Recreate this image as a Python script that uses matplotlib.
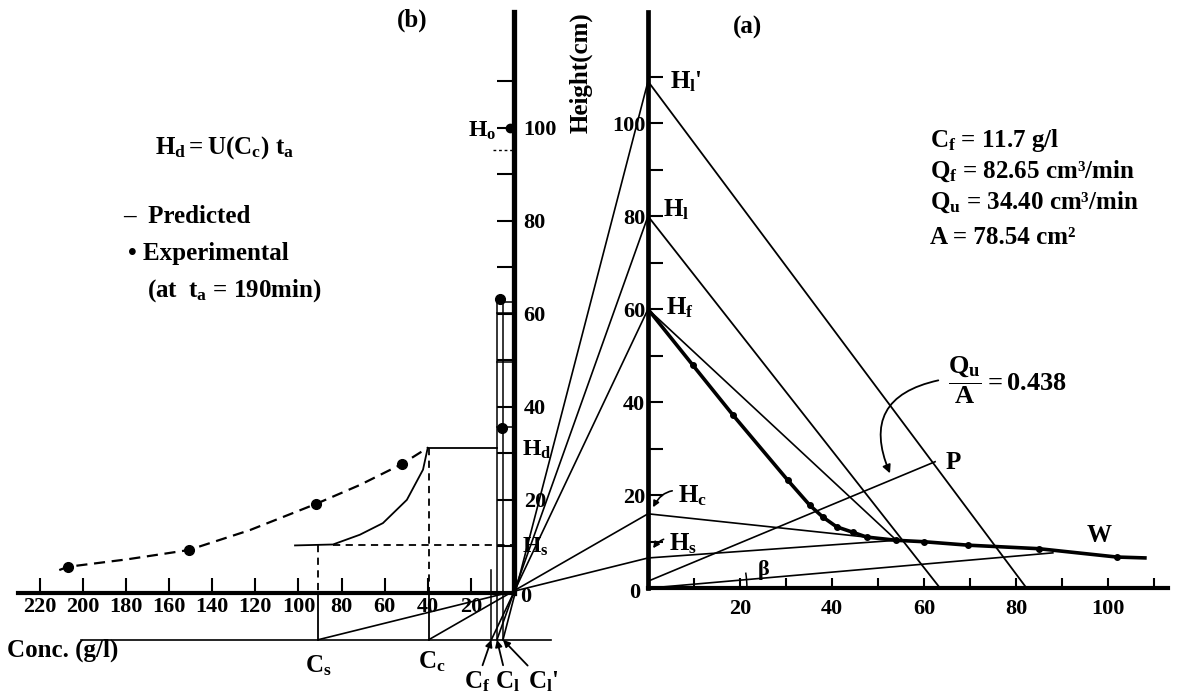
import matplotlib
matplotlib.use("Agg")
import matplotlib.pyplot as plt
from matplotlib.patches import ConnectionPatch, Arc

plt.rcParams['font.family'] = 'Liberation Serif'
plt.rcParams['font.weight'] = 'bold'
plt.rcParams['mathtext.fontset'] = 'custom'
plt.rcParams['mathtext.rm'] = 'Liberation Serif:bold'
plt.rcParams['mathtext.it'] = 'Liberation Serif:bold'
plt.rcParams['mathtext.bf'] = 'Liberation Serif:bold'

# ---------------- panel (b): height vs concentration ----------------
exp_conc = [207, 151, 92, 52]
exp_h = [5.6, 9.2, 19.1, 27.7]
trend_conc = [211, 207, 179.6, 151, 122.5, 92, 71.5, 52, 40]
trend_h = [4.9, 5.6, 7.2, 9.2, 13.5, 19.1, 23.2, 27.7, 31.2]
pred_conc = [101.6, 84, 71.5, 60.8, 49.7, 42.2, 40]
pred_h = [10.2, 10.4, 12.5, 15, 20, 26.5, 31.2]
H_d = 31.2
H_s_b = 10.2
H_o = 100
baseline_h = -10.1
ladder_top = 63.4
ladder_rungs = [62.6, 60.2, 49.7, 35.7]
ladder_dot_conc = [6.5, 5.5]
ladder_dot_h = [63.3, 35.5]

# concentrations on the base line and matching heights on axis (a)
C_labels = [r'$C_s$', r'$C_c$', r'$C_f$', r'$C_l$', r"$C_l$'"]
C_vals = [91, 39.6, 10.5, 7.9, 5.1]
H_labels = [r'$H_s$', r'$H_c$', r'$H_f$', r'$H_l$', r"$H_l$'"]
H_vals = [6.5, 16, 60, 80, 109]

# ---------------- panel (a): height vs time ----------------
curve_x = [0, 9.8, 18.5, 30.4, 35.2, 38, 41, 44.6, 47.5, 54, 59.9, 69.6, 84.9, 101.9, 108.4]
curve_y = [60, 47.9, 37.2, 23.2, 17.8, 15.3, 13.2, 12.0, 11.0, 10.3, 10.0, 9.25, 8.5, 6.7, 6.5]
cross_pt = (54, 10.3)
Hl_end = 63.5
Hlp_end = 82.3
P_pt = (62.4, 27.2)
OP_start = 1.5
beta_end = (88, 7.6)

W, H = 1178, 697
fig = plt.figure(figsize=(W / 100, H / 100), dpi=100)


def fx(px):
    return px / W


def fy(py):
    return 1 - py / H


ax_b = fig.add_axes([0, 0, fx(648), 1])
ax_b.set_xlim(238.5, -62.2)
ax_b.set_ylim(-22.4, 127.5)
ax_a = fig.add_axes([fx(648), 0, 1 - fx(648), 1])
ax_a.set_xlim(0, 115.2)
ax_a.set_ylim(-23.4, 126.5)

for ax in (ax_a, ax_b):
    ax.patch.set_visible(False)
    ax.spines['top'].set_visible(False)

# axes of (b)
ax_b.spines['left'].set_visible(False)
ax_b.spines['right'].set_position(('data', 0))
ax_b.spines['right'].set_bounds(0, 125)
ax_b.spines['right'].set_linewidth(3.8)
ax_b.spines['bottom'].set_position(('data', 0))
ax_b.spines['bottom'].set_bounds(0, 230)
ax_b.spines['bottom'].set_linewidth(3.0)
ax_b.set_xticks(range(20, 240, 20))
ax_b.set_yticks([20, 40, 60, 80, 100])
ax_b.set_yticks(range(10, 120, 20), minor=True)
ax_b.tick_params(axis='x', direction='in', length=11, width=1.5, pad=3, labelsize=16)
ax_b.tick_params(axis='y', which='both', direction='in', length=12, width=1.5,
                 left=False, labelleft=False, right=True, labelright=True,
                 pad=7, labelsize=16)

# axes of (a)
ax_a.spines['right'].set_visible(False)
ax_a.spines['left'].set_position(('data', 0))
ax_a.spines['left'].set_bounds(0, 124)
ax_a.spines['left'].set_linewidth(3.4)
ax_a.spines['bottom'].set_position(('data', 0))
ax_a.spines['bottom'].set_bounds(0, 113)
ax_a.spines['bottom'].set_linewidth(3.0)
ax_a.set_xticks([20, 40, 60, 80, 100])
ax_a.set_xticks(range(10, 120, 20), minor=True)
ax_a.set_yticks([20, 40, 60, 80, 100])
ax_a.set_yticks(range(10, 120, 20), minor=True)
ax_a.tick_params(axis='x', which='both', direction='in', length=7, width=1.5, pad=8, labelsize=16)
ax_a.tick_params(axis='y', which='both', direction='in', length=11, width=1.5, pad=2, labelsize=16)

ax_b.text(-5.5, -1.0, '0', fontsize=16, ha='center', va='center')
ax_a.text(-2.8, -1.1, '0', fontsize=16, ha='center', va='center')

# ---------------- drawing (b) ----------------
ax_b.plot(trend_conc, trend_h, color='k', lw=1.6, ls=(0, (5, 3)))
ax_b.plot(exp_conc, exp_h, 'o', color='k', ms=7)
ax_b.plot(pred_conc, pred_h, color='k', lw=1.3)
ax_b.plot([pred_conc[-1], C_vals[3]], [H_d, H_d], color='k', lw=1.3)
ax_b.plot([pred_conc[1], 0], [H_s_b, H_s_b], color='k', lw=1.3, ls=(0, (4, 3)))
# verticals at C_s and C_c
ax_b.plot([C_vals[0], C_vals[0]], [H_s_b, 0], color='k', lw=1.3, ls=(0, (4, 3)))
ax_b.plot([C_vals[1], C_vals[1]], [H_d, 0], color='k', lw=1.3, ls=(0, (4, 3)))
ax_b.plot([C_vals[0], C_vals[0]], [0, baseline_h], color='k', lw=1.3)
ax_b.plot([C_vals[1], C_vals[1]], [0, baseline_h], color='k', lw=1.3)
ax_b.plot([C_vals[2], C_vals[2]], [baseline_h, 5], color='k', lw=1.1)
# base line for concentrations
ax_b.plot([201, -17], [baseline_h, baseline_h], color='k', lw=1.2)
# ladder at C_l and C_l'
for c in (C_vals[3], C_vals[4]):
    ax_b.plot([c, c], [baseline_h, ladder_top], color='k', lw=1.1)
for r in ladder_rungs:
    ax_b.plot([C_vals[3], 0], [r, r], color='k', lw=1.1)
ax_b.plot(ladder_dot_conc, ladder_dot_h, 'o', color='k', ms=7)
# H_o mark
ax_b.plot([1.9], [H_o], 'o', color='k', ms=6)
ax_b.plot([9.7, 0.9], [95.3, 95.3], color='k', lw=1.0, ls=(0, (2, 2)))
ax_b.text(14.8, 99.4, r'$H_o$', fontsize=17, ha='center', va='center')
ax_b.text(-10.7, 30.7, r'$H_d$', fontsize=17, ha='center', va='center')
ax_b.text(-9.7, 9.9, r'$H_s$', fontsize=17, ha='center', va='center')
ax_b.text(235.3, -12.3, 'Conc. (g/l)', fontsize=18, ha='left', va='center')

# labels of the concentrations on the base line
ax_b.text(C_vals[0], -15.7, C_labels[0], fontsize=18, ha='center', va='center')
ax_b.text(C_vals[1] - 1.5, -14.9, C_labels[1], fontsize=18, ha='center', va='center')
for lab, c, lx in zip(C_labels[2:], C_vals[2:], [17.2, 3.2, -13.5]):
    ax_b.annotate(lab, xy=(c, baseline_h), xytext=(lx, -19.1),
                  fontsize=18, ha='center', va='center',
                  arrowprops=dict(arrowstyle='-|>', color='k', lw=1.3,
                                  mutation_scale=10, shrinkA=1, shrinkB=0))

# lines from the base line through the origin of (b) to axis (a)
for c, h in zip(C_vals, H_vals):
    con = ConnectionPatch(xyA=(c, baseline_h), coordsA=ax_b.transData,
                          xyB=(0, h), coordsB=ax_a.transData, color='k', lw=1.2)
    fig.add_artist(con)

# ---------------- drawing (a) ----------------
ax_a.plot([0, Hlp_end], [H_vals[4], 0], color='k', lw=1.3)
ax_a.plot([0, Hl_end], [H_vals[3], 0], color='k', lw=1.3)
ax_a.plot([0, cross_pt[0]], [H_vals[2], cross_pt[1]], color='k', lw=1.2)
ax_a.plot([0, cross_pt[0]], [H_vals[1], cross_pt[1]], color='k', lw=1.2)
ax_a.plot([0, cross_pt[0]], [H_vals[0], cross_pt[1]], color='k', lw=1.2)
ax_a.plot([0, P_pt[0]], [OP_start, P_pt[1]], color='k', lw=1.2)
ax_a.plot([0, beta_end[0]], [0, beta_end[1]], color='k', lw=1.2)
ax_a.plot(curve_x, curve_y, color='k', lw=2.6, solid_capstyle='butt')
ax_a.plot(curve_x[1:-1], curve_y[1:-1], 'o', color='k', ms=4)
ax_a.add_patch(Arc((0, 0), 43, 43, theta1=0, theta2=9, color='k', lw=1.1))
ax_a.text(25, 3.9, r'$\beta$', fontsize=16, ha='center', va='center')

ax_a.text(8.3, 109, H_labels[4], fontsize=18, ha='center', va='center')
ax_a.text(6.1, 81.3, H_labels[3], fontsize=18, ha='center', va='center')
ax_a.text(7.0, 60.4, H_labels[2], fontsize=18, ha='center', va='center')
ax_a.annotate(H_labels[1], xy=(1.1, 17.4), xytext=(9.6, 20), fontsize=18,
              ha='center', va='center',
              arrowprops=dict(arrowstyle='-|>', color='k', lw=1.2, mutation_scale=9,
                              connectionstyle='arc3,rad=0.5', shrinkA=2, shrinkB=0))
ax_a.annotate(H_labels[0], xy=(1.1, 8.6), xytext=(7.6, 9.6), fontsize=18,
              ha='center', va='center',
              arrowprops=dict(arrowstyle='-|>', color='k', lw=1.2, mutation_scale=9,
                              connectionstyle='arc3,rad=0.5', shrinkA=2, shrinkB=0))
ax_a.text(66.3, 27.1, 'P', fontsize=18, ha='center', va='center')
ax_a.text(98, 11.4, 'W', fontsize=18, ha='center', va='center')
ax_a.text(78.2, 44.7, r'$\dfrac{Q_u}{A} = 0.438$', fontsize=19, ha='center', va='center')
ax_a.annotate('', xy=(52.6, 24.7), xytext=(63.1, 44.7),
              arrowprops=dict(arrowstyle='-|>', color='k', lw=1.3, mutation_scale=12,
                              connectionstyle='arc3,rad=0.6', shrinkA=0, shrinkB=0))

# ---------------- titles and notes ----------------
fig.text(fx(412), fy(20), '(b)', fontsize=18, ha='center', va='center')
fig.text(fx(747), fy(27), '(a)', fontsize=18, ha='center', va='center')
fig.text(fx(581), fy(73), 'Height(cm)', fontsize=18, ha='center', va='center', rotation=90)

fig.text(fx(225), fy(148), r'$H_d = U(C_c)\ t_a$', fontsize=18, ha='center', va='center')
fig.text(fx(123), fy(217), '\u2013  Predicted', fontsize=18, ha='left', va='center')
fig.text(fx(128), fy(253), '\u2022 Experimental', fontsize=18, ha='left', va='center')
fig.text(fx(147), fy(291), r'(at  $t_a$ = 190min)', fontsize=18, ha='left', va='center')

params = [r'$C_f$ = 11.7 g/l', r'$Q_f$ = 82.65 cm³/min',
          r'$Q_u$ = 34.40 cm³/min', 'A = 78.54 cm²']
for txt, py in zip(params, [141, 171, 202, 237]):
    fig.text(fx(930), fy(py), txt, fontsize=18, ha='left', va='center')

fig.savefig('out.png', dpi=100)
